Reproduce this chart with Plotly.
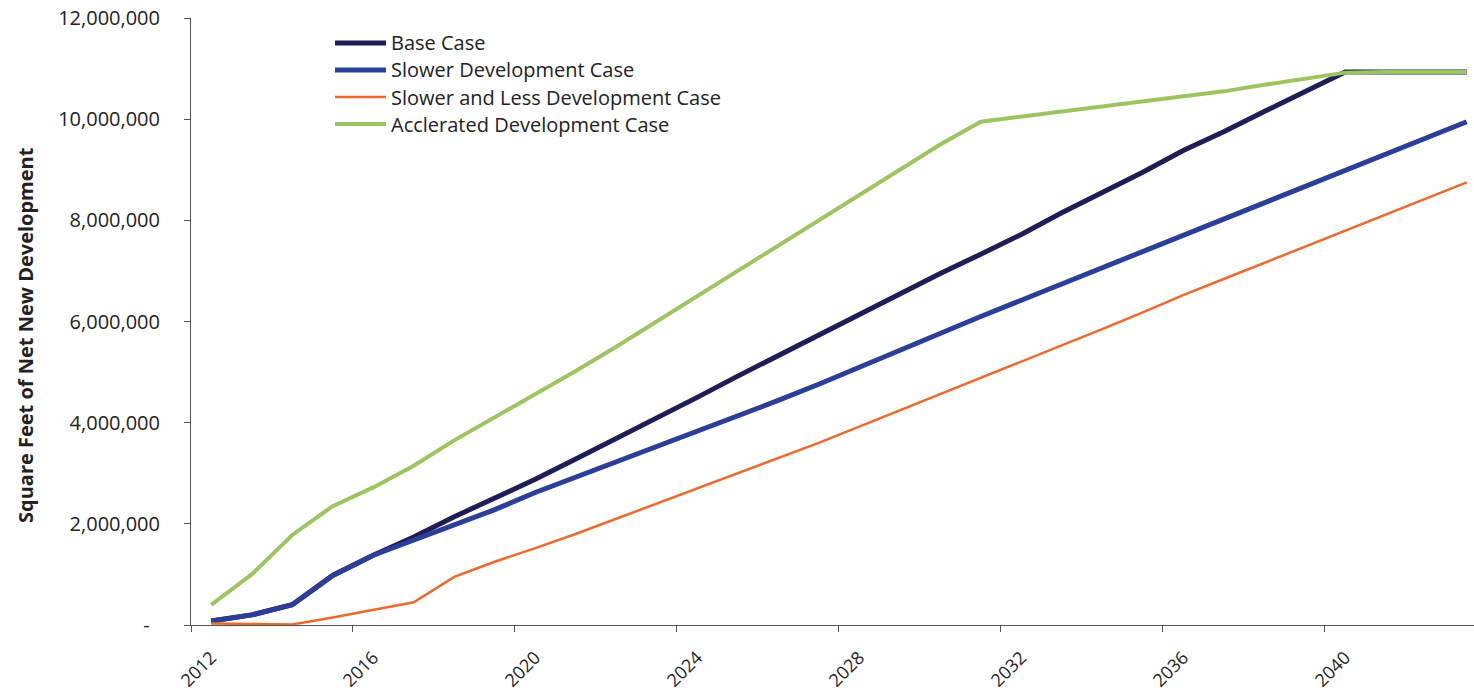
import plotly.graph_objects as go

years = list(range(2012, 2044))

base_case = [0.08e6, 0.20e6, 0.40e6, 0.98e6, 1.38e6, 1.74e6, 2.14e6, 2.50e6,
             2.88e6, 3.28e6, 3.68e6, 4.10e6, 4.50e6, 4.92e6, 5.33e6, 5.74e6,
             6.15e6, 6.55e6, 6.95e6, 7.33e6, 7.72e6, 8.15e6, 8.55e6, 8.95e6,
             9.38e6, 9.75e6, 10.15e6, 10.55e6, 10.93e6, 10.93e6, 10.93e6, 10.93e6]

slower_dev = [0.08e6, 0.20e6, 0.40e6, 0.98e6, 1.38e6, 1.68e6, 1.98e6, 2.28e6,
              2.62e6, 2.92e6, 3.22e6, 3.52e6, 3.82e6, 4.12e6, 4.44e6, 4.76e6,
              5.10e6, 5.44e6, 5.78e6, 6.10e6, 6.42e6, 6.74e6, 7.06e6, 7.38e6,
              7.70e6, 8.04e6, 8.36e6, 8.68e6, 9.00e6, 9.32e6, 9.64e6, 9.95e6]

slower_less = [0.03e6, 0.02e6, 0.01e6, 0.15e6, 0.30e6, 0.45e6, 0.95e6, 1.25e6,
               1.52e6, 1.80e6, 2.10e6, 2.40e6, 2.70e6, 3.00e6, 3.30e6, 3.60e6,
               3.92e6, 4.24e6, 4.56e6, 4.88e6, 5.20e6, 5.52e6, 5.85e6, 6.18e6,
               6.52e6, 6.84e6, 7.16e6, 7.48e6, 7.80e6, 8.12e6, 8.44e6, 8.75e6]

accelerated = [0.40e6, 1.00e6, 1.78e6, 2.35e6, 2.72e6, 3.15e6, 3.65e6, 4.10e6,
               4.55e6, 5.02e6, 5.50e6, 6.00e6, 6.50e6, 7.00e6, 7.50e6, 8.00e6,
               8.48e6, 9.00e6, 9.50e6, 9.95e6, 10.05e6, 10.15e6, 10.25e6, 10.35e6,
               10.45e6, 10.55e6, 10.68e6, 10.80e6, 10.92e6, 10.93e6, 10.93e6, 10.93e6]

series_names = ["Base Case", "Slower Development Case",
                "Slower and Less Development Case", "Acclerated Development Case"]

x_tick_years = [2012, 2016, 2020, 2024, 2028, 2032, 2036, 2040]
y_tick_vals = [0, 2e6, 4e6, 6e6, 8e6, 10e6, 12e6]
y_tick_text = ["-\u00a0\u00a0", "2,000,000", "4,000,000", "6,000,000",
               "8,000,000", "10,000,000", "12,000,000"]

styles = [("#1e1d55", 5), ("#2b3f98", 5), ("#ec6a2c", 2.5), ("#9cc560", 4)]
data = [base_case, slower_dev, slower_less, accelerated]

# layout geometry (pixels)
W, H = 1474, 698
ML, MR, MT, MB = 191, 0, 18, 73
PW, PH = W - ML - MR, H - MT - MB


def px_x(px):
    return (px - ML) / PW


def px_y(py):
    return (H - MB - py) / PH


fig = go.Figure()
for name, vals, (color, w) in zip(series_names, data, styles):
    fig.add_trace(go.Scatter(x=years, y=vals, mode="lines", name=name,
                             line=dict(color=color, width=w), showlegend=False))

font_family = "Open Sans, Liberation Sans, sans-serif"

# manual legend (line samples + labels)
shapes = []
annotations = []
legend_rows = [43, 70, 97, 124]
for name, (color, w), ry in zip(series_names, styles, legend_rows):
    shapes.append(dict(type="line", xref="paper", yref="paper",
                       x0=px_x(335), x1=px_x(386), y0=px_y(ry), y1=px_y(ry),
                       line=dict(color=color, width=w)))
    annotations.append(dict(text=name, xref="paper", yref="paper",
                            x=px_x(389), y=px_y(ry), xanchor="left",
                            yanchor="middle", showarrow=False,
                            font=dict(size=20, color="#222222")))

annotations.append(dict(
    text="<b>Square Feet of Net New Development</b>",
    xref="paper", yref="paper", x=px_x(26), y=px_y(335),
    xanchor="center", yanchor="middle", textangle=-90,
    showarrow=False, font=dict(size=20, color="#222222")))

fig.update_layout(
    width=W, height=H,
    margin=dict(l=ML, r=MR, t=MT, b=MB),
    paper_bgcolor="white", plot_bgcolor="white",
    font=dict(family=font_family, color="#222222"),
    showlegend=False,
    xaxis=dict(
        range=[2011.5, 2043.18],
        tickmode="array", tickvals=x_tick_years,
        ticktext=[str(y) for y in x_tick_years],
        tickangle=-45, ticks="", showgrid=False, zeroline=False,
        showline=True, linecolor="#555555", linewidth=1,
        tickfont=dict(size=18, color="#222222"),
        ticklabelstandoff=14,
        minor=dict(tickmode="array",
                   tickvals=[y - 0.5 for y in x_tick_years],
                   ticks="outside", ticklen=6, tickcolor="#555555",
                   showgrid=False),
    ),
    yaxis=dict(
        range=[0, 12e6],
        tickmode="array", tickvals=y_tick_vals, ticktext=y_tick_text,
        ticks="outside", ticklen=6, tickcolor="#555555",
        showgrid=False, zeroline=False,
        showline=True, linecolor="#555555", linewidth=1,
        tickfont=dict(size=20, color="#222222"),
        ticklabelstandoff=20,
    ),
    shapes=shapes,
    annotations=annotations,
)

fig.write_html("out.html")
